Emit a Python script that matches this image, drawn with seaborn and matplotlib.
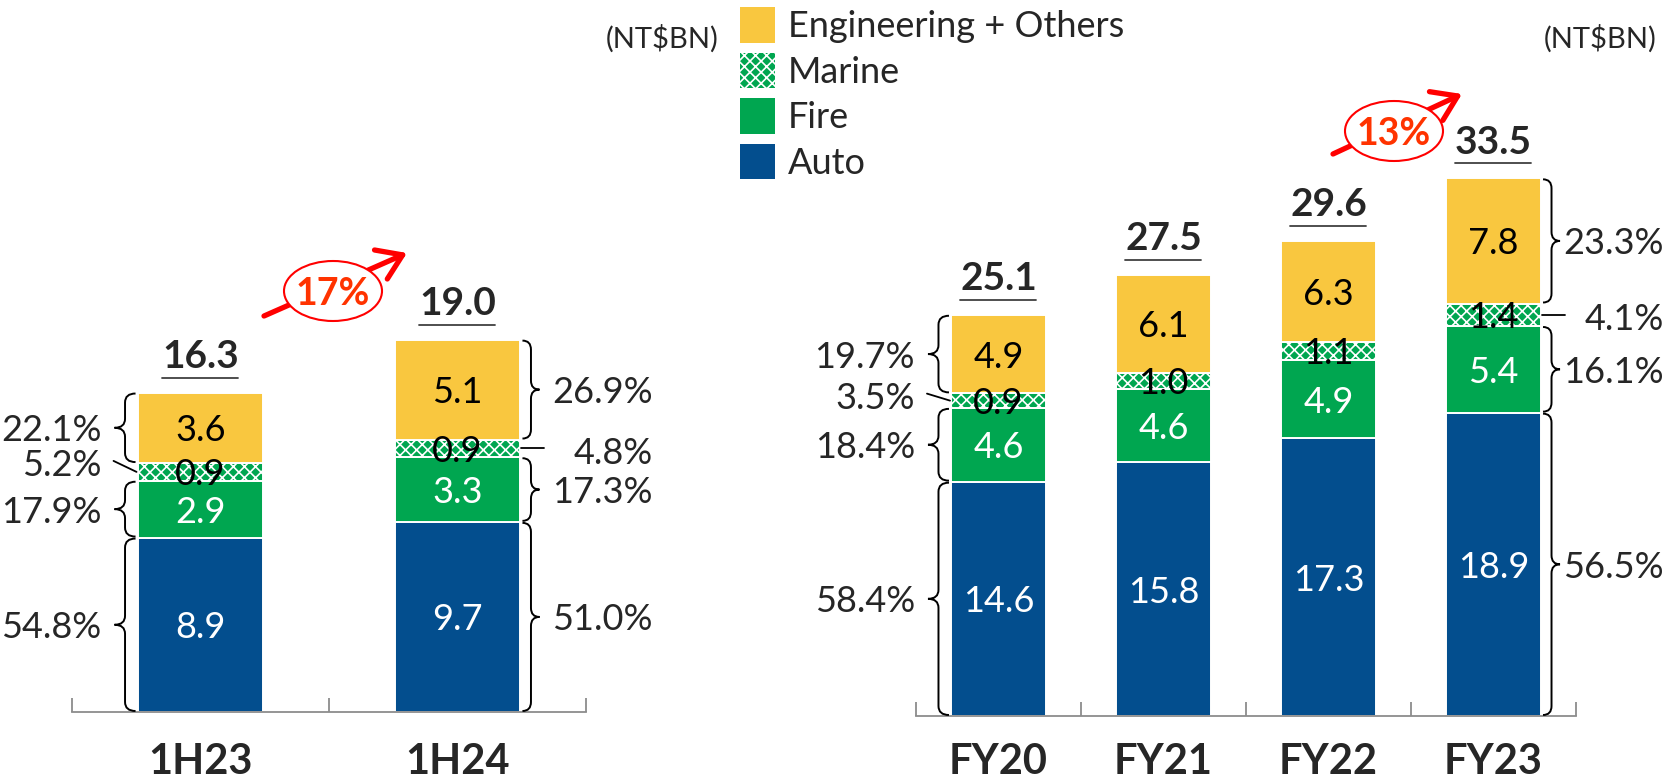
import numpy as np
import pandas as pd
import matplotlib
matplotlib.use("Agg")
import matplotlib.pyplot as plt
import seaborn as sns
from matplotlib.patches import Patch, Ellipse, FancyArrowPatch, PathPatch
from matplotlib.path import Path
from matplotlib.lines import Line2D
from matplotlib.transforms import Affine2D

# ---------------- data (NT$BN) ----------------
segment_names = ["Auto", "Fire", "Marine", "Engineering + Others"]

half_periods = ["1H23", "1H24"]
half_auto = [8.9, 9.7]
half_fire = [2.9, 3.3]
half_marine = [0.9, 0.9]
half_eng = [3.6, 5.1]
half_totals = [16.3, 19.0]
half_pct_auto = ["54.8%", "51.0%"]
half_pct_fire = ["17.9%", "17.3%"]
half_pct_marine = ["5.2%", "4.8%"]
half_pct_eng = ["22.1%", "26.9%"]
half_growth = "17%"

year_periods = ["FY20", "FY21", "FY22", "FY23"]
year_auto = [14.6, 15.8, 17.3, 18.9]
year_fire = [4.6, 4.6, 4.9, 5.4]
year_marine = [0.9, 1.0, 1.1, 1.4]
year_eng = [4.9, 6.1, 6.3, 7.8]
year_totals = [25.1, 27.5, 29.6, 33.5]
year_pct_auto = ["58.4%", "", "", "56.5%"]
year_pct_fire = ["18.4%", "", "", "16.1%"]
year_pct_marine = ["3.5%", "", "", "4.1%"]
year_pct_eng = ["19.7%", "", "", "23.3%"]
year_growth = "13%"

unit_label = "(NT$BN)"

# ---------------- style ----------------
W, H = 1681, 778
sns.set_theme(style="white")
plt.rcParams["font.family"] = ["Lato", "DejaVu Sans"]
plt.rcParams["hatch.linewidth"] = 1.2

fill = {"Auto": "#034E8E", "Fire": "#00A650", "Marine": "#00A650",
        "Engineering + Others": "#F9C73F"}
ink = {"Auto": "white", "Fire": "white", "Marine": "black",
       "Engineering + Others": "black"}
hatch = {"Marine": "xxx"}
AXIS_GREY = "#8C8C8C"
RED = "#FF0000"
RED_TEXT = "#FF3300"
VALUE_SIZE = 26

fig = plt.figure(figsize=(W / 100, H / 100), dpi=100)
fig.patch.set_facecolor("white")
PIX = Affine2D().scale(1 / W, 1 / H) + fig.transFigure   # pixel coords, origin bottom-left


def brace(x_end, y0, y1, depth, lw=1.4):
    """Vertical curly brace in pixel coords; depth sign gives tip direction."""
    xm = x_end + depth / 2
    xt = x_end + depth
    ym = (y0 + y1) / 2
    r = min(9.0, (y1 - y0) / 4)
    verts = [(x_end, y0), (xm, y0), (xm, y0 + r),
             (xm, ym - r), (xm, ym), (xt, ym),
             (xm, ym), (xm, ym + r),
             (xm, y1 - r), (xm, y1), (x_end, y1)]
    codes = [Path.MOVETO, Path.CURVE3, Path.CURVE3, Path.LINETO,
             Path.CURVE3, Path.CURVE3, Path.CURVE3, Path.CURVE3,
             Path.LINETO, Path.CURVE3, Path.CURVE3]
    fig.add_artist(PathPatch(Path(verts, codes), fill=False, lw=lw,
                             edgecolor="black", transform=PIX, zorder=5))


def panel(rect, periods, layers, totals, shares, bar_width, px_per_unit, sides,
          marine_shift, right_label_gap):
    left, axis_y, right = rect
    ax = fig.add_axes([left / W, (H - axis_y) / H, (right - left) / W, axis_y / H])
    n = len(periods)
    bottom = np.zeros(n)
    stacks = []
    for name, vals in zip(segment_names, layers):
        vals = np.asarray(vals, float)
        df = pd.DataFrame({"period": periods, "value": vals})
        sns.barplot(data=df, x="period", y="value", order=periods, ax=ax,
                    bottom=bottom.copy(), width=bar_width, color=fill[name],
                    saturation=1, edgecolor="white", linewidth=1.4,
                    hatch=hatch.get(name), errorbar=None)
        stacks.append((name, bottom.copy(), vals))
        bottom += vals

    ax.set_xlim(-0.5, n - 0.5)
    ax.set_ylim(0, axis_y / px_per_unit)
    ax.set_xlabel("")
    ax.set_ylabel("")
    ax.set_yticks([])
    for s in ("top", "left", "right"):
        ax.spines[s].set_visible(False)
    ax.spines["bottom"].set_color(AXIS_GREY)
    ax.spines["bottom"].set_linewidth(1.3)
    ax.set_xticks(np.arange(-0.5, n, 1.0))
    ax.tick_params(axis="x", direction="in", length=10, width=1.3,
                   color=AXIS_GREY, labelbottom=False, bottom=True)

    # values inside segments
    for name, b, v in stacks:
        for i in range(n):
            ax.text(i, b[i] + v[i] / 2, f"{v[i]:.1f}", ha="center",
                    va="center_baseline", color=ink[name], fontsize=VALUE_SIZE,
                    zorder=6)

    to_px = ax.transData.transform
    # totals with underline, and category names
    for i in range(n):
        xc, yt = to_px((i, bottom[i]))
        fig.text(xc, yt + 39, f"{totals[i]:.1f}", transform=PIX, ha="center",
                 va="center_baseline", fontsize=28, fontweight="bold")
        fig.add_artist(Line2D([xc - 38, xc + 38], [yt + 15, yt + 15],
                              color="#404040", lw=1.3, transform=PIX))
        fig.text(xc, H - 774, periods[i], transform=PIX, ha="center",
                 va="baseline", fontsize=30, fontweight="bold")

    # share annotations
    for i, side in enumerate(sides):
        if side is None:
            continue
        sgn = -1 if side == "left" else 1
        depth = 21 if side == "left" else 17
        x_edge = to_px((i + sgn * bar_width / 2, 0))[0]
        for (name, b, v), pct in zip(stacks, shares):
            y0 = to_px((0, b[i]))[1]
            y1 = to_px((0, b[i] + v[i]))[1]
            yc = (y0 + y1) / 2
            if name == "Marine":
                yl = yc + marine_shift[i]
                fig.add_artist(Line2D([x_edge + sgn * 1, x_edge + sgn * 24],
                                      [yc, yl + 2], color="black", lw=1.3,
                                      transform=PIX))
            else:
                yl = yc
                brace(x_edge + sgn * 2, y0 + 1, y1 - 1, sgn * depth)
            xl = x_edge - 36 if side == "left" else x_edge + right_label_gap
            fig.text(xl, yl, pct[i], transform=PIX, ha="right",
                     va="center_baseline", fontsize=VALUE_SIZE)
    return ax


panel((72, 712, 586), half_periods,
      [half_auto, half_fire, half_marine, half_eng], half_totals,
      [half_pct_auto, half_pct_fire, half_pct_marine, half_pct_eng],
      0.49, 19.6, ["left", "right"], [9, -2], 132)

panel((916, 716, 1576), year_periods,
      [year_auto, year_fire, year_marine, year_eng], year_totals,
      [year_pct_auto, year_pct_fire, year_pct_marine, year_pct_eng],
      0.576, 16.05, ["left", None, None, "right"], [5, 0, 0, -2], 123)

# unit captions
fig.text(606, H - 36, unit_label, transform=PIX, ha="left",
         va="center_baseline", fontsize=21)
fig.text(1657, H - 36, unit_label, transform=PIX, ha="right",
         va="center_baseline", fontsize=21)

# legend
handles = [Patch(facecolor=fill[n], edgecolor="white", linewidth=0,
                 hatch=hatch.get(n)) for n in reversed(segment_names)]
fig.legend(handles, list(reversed(segment_names)), loc="upper left",
           bbox_to_anchor=(740 / W, 1 - 7 / H), frameon=False, fontsize=26,
           handlelength=0.97, handleheight=1.15, handletextpad=0.36,
           labelspacing=0.26, borderpad=0, borderaxespad=0)


# growth callouts
def growth(start, end, centre, label):
    sx, sy = start
    ex, ey = end
    fig.add_artist(FancyArrowPatch((sx, H - sy), (ex, H - ey), transform=PIX,
                                   arrowstyle="->,head_length=0.45,head_width=0.3",
                                   mutation_scale=38, lw=3.8, color=RED,
                                   shrinkA=0, shrinkB=0, zorder=7))
    cx, cy = centre
    fig.add_artist(Ellipse((cx, H - cy), 98, 60, transform=PIX,
                           facecolor="white", edgecolor=RED, lw=1.5, zorder=8))
    fig.text(cx, H - cy, label, transform=PIX, ha="center",
             va="center_baseline", fontsize=27, fontweight="bold",
             color=RED_TEXT, zorder=9)


growth((264, 316), (407, 253), (333, 291), half_growth)
growth((1333, 154), (1462, 94), (1394, 131), year_growth)

fig.savefig("out.png", dpi=100)
